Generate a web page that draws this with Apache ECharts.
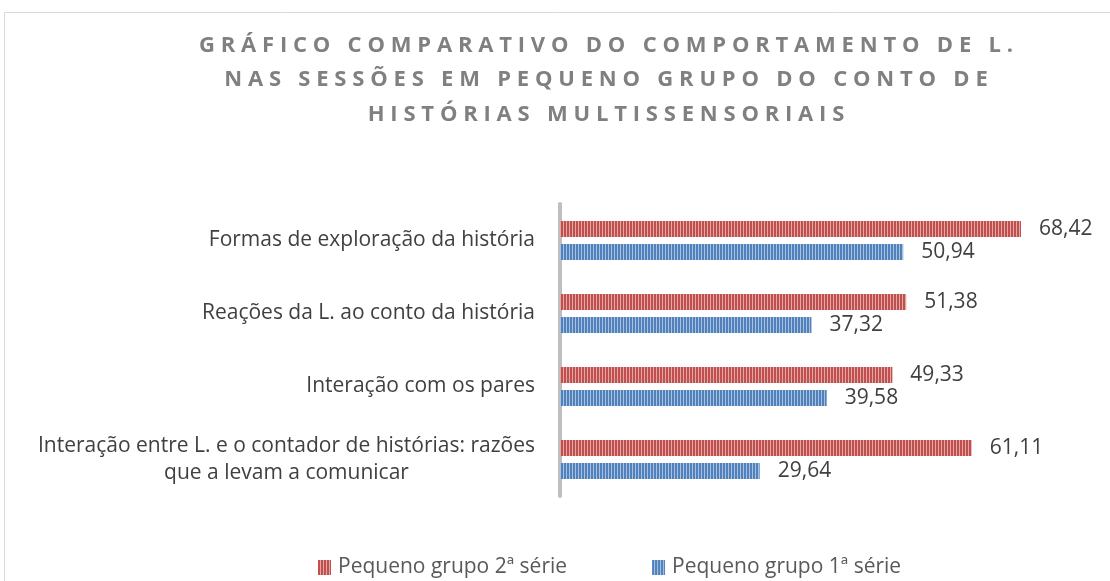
<!DOCTYPE html>
<html><head><meta charset="utf-8">
<script src="https://cdn.jsdelivr.net/npm/echarts@6/dist/echarts.min.js"></script>
<style>html,body{margin:0;padding:0;background:#fff}#c{width:1110px;height:581px}</style>
</head><body><div id="c"></div>
<script>
const titleLines = ['GRÁFICO COMPARATIVO DO COMPORTAMENTO DE L.', 'NAS SESSÕES EM PEQUENO GRUPO DO CONTO DE', 'HISTÓRIAS MULTISSENSORIAIS'];
const categories = ['Interação entre L. e o contador de histórias: razões\nque a levam a comunicar', 'Interação com os pares', 'Reações da L. ao conto da história', 'Formas de exploração da história'];
const seriesNames = ['Pequeno grupo 2ª série', 'Pequeno grupo 1ª série'];
const serie2 = [61.11, 49.33, 51.38, 68.42];
const serie1 = [29.64, 39.58, 37.32, 50.94];

// letter spacing for the title font (22px bold) only
const TITLE_SPACING = 5.8;
const origFill = CanvasRenderingContext2D.prototype.fillText;
CanvasRenderingContext2D.prototype.fillText = function (t, x, y, m) {
  if (this.font && this.font.indexOf('22px') >= 0 && 'letterSpacing' in this) {
    this.save();
    this.letterSpacing = TITLE_SPACING + 'px';
    const dx = this.textAlign === 'center' ? TITLE_SPACING / 2 : 0;
    const r = m === undefined ? origFill.call(this, t, x + dx, y) : origFill.call(this, t, x + dx, y, m);
    this.restore();
    return r;
  }
  return m === undefined ? origFill.call(this, t, x, y) : origFill.call(this, t, x, y, m);
};

function stripes(base, light) {
  const c = document.createElement('canvas');
  c.width = 3; c.height = 4;
  const g = c.getContext('2d');
  g.fillStyle = base; g.fillRect(0, 0, 3, 4);
  g.fillStyle = light; g.fillRect(2, 0, 1, 4);
  return { image: c, repeat: 'repeat' };
}
const red = stripes('#C0504D', '#E3A8A6');
const blue = stripes('#4F81BD', '#A9C1DF');

const FS = 21;
const fmt = p => p.value.toFixed(2).replace('.', ',');
const labelStyle = { show: true, position: 'right', distance: 18, formatter: fmt, fontSize: FS, color: '#404040', fontFamily: 'Open Sans' };
const chart = echarts.init(document.getElementById('c'), null, { renderer: 'canvas' });
chart.setOption({
  animation: false,
  textStyle: { fontFamily: 'Open Sans' },
  graphic: [
    { type: 'rect', shape: { x: 4.5, y: 12.5, width: 1200, height: 700 }, style: { fill: 'none', stroke: '#d9d9d9', lineWidth: 1 }, z: -1 },
    { type: 'text', x: 606, y: 28, style: { text: titleLines.join('\n'), align: 'center', verticalAlign: 'top', font: 'bold 22px "Open Sans"', fill: '#808080', lineHeight: 34.5 } }
  ],
  legend: {
    data: seriesNames,
    left: 313, top: 552,
    icon: 'rect', itemWidth: 13, itemHeight: 15, itemGap: 85,
    textStyle: { fontSize: FS, color: '#595959', fontFamily: 'Open Sans', padding: [0, 0, 0, 2] }
  },
  grid: { left: 560, right: 11, top: 204, bottom: 85, containLabel: false },
  xAxis: { type: 'value', min: 0, max: 80, show: false },
  yAxis: {
    type: 'category', data: categories, offset: 2,
    axisLine: { show: true, lineStyle: { color: '#bfbfbf', width: 4 } },
    axisTick: { show: false },
    axisLabel: {
      margin: 23, fontSize: FS, color: '#404040', fontFamily: 'Open Sans',
      formatter: v => v.split('\n').map(s => '{c|' + s + '}').join('\n'),
      rich: { c: { align: 'center', fontSize: FS, color: '#404040', fontFamily: 'Open Sans', lineHeight: 27 } }
    }
  },
  series: [
    { name: seriesNames[0], type: 'bar', data: serie2, barWidth: 16, barGap: '45%', itemStyle: { color: red }, label: labelStyle },
    { name: seriesNames[1], type: 'bar', data: serie1, barWidth: 16, barGap: '45%', itemStyle: { color: blue }, label: labelStyle }
  ]
});
</script></body></html>
